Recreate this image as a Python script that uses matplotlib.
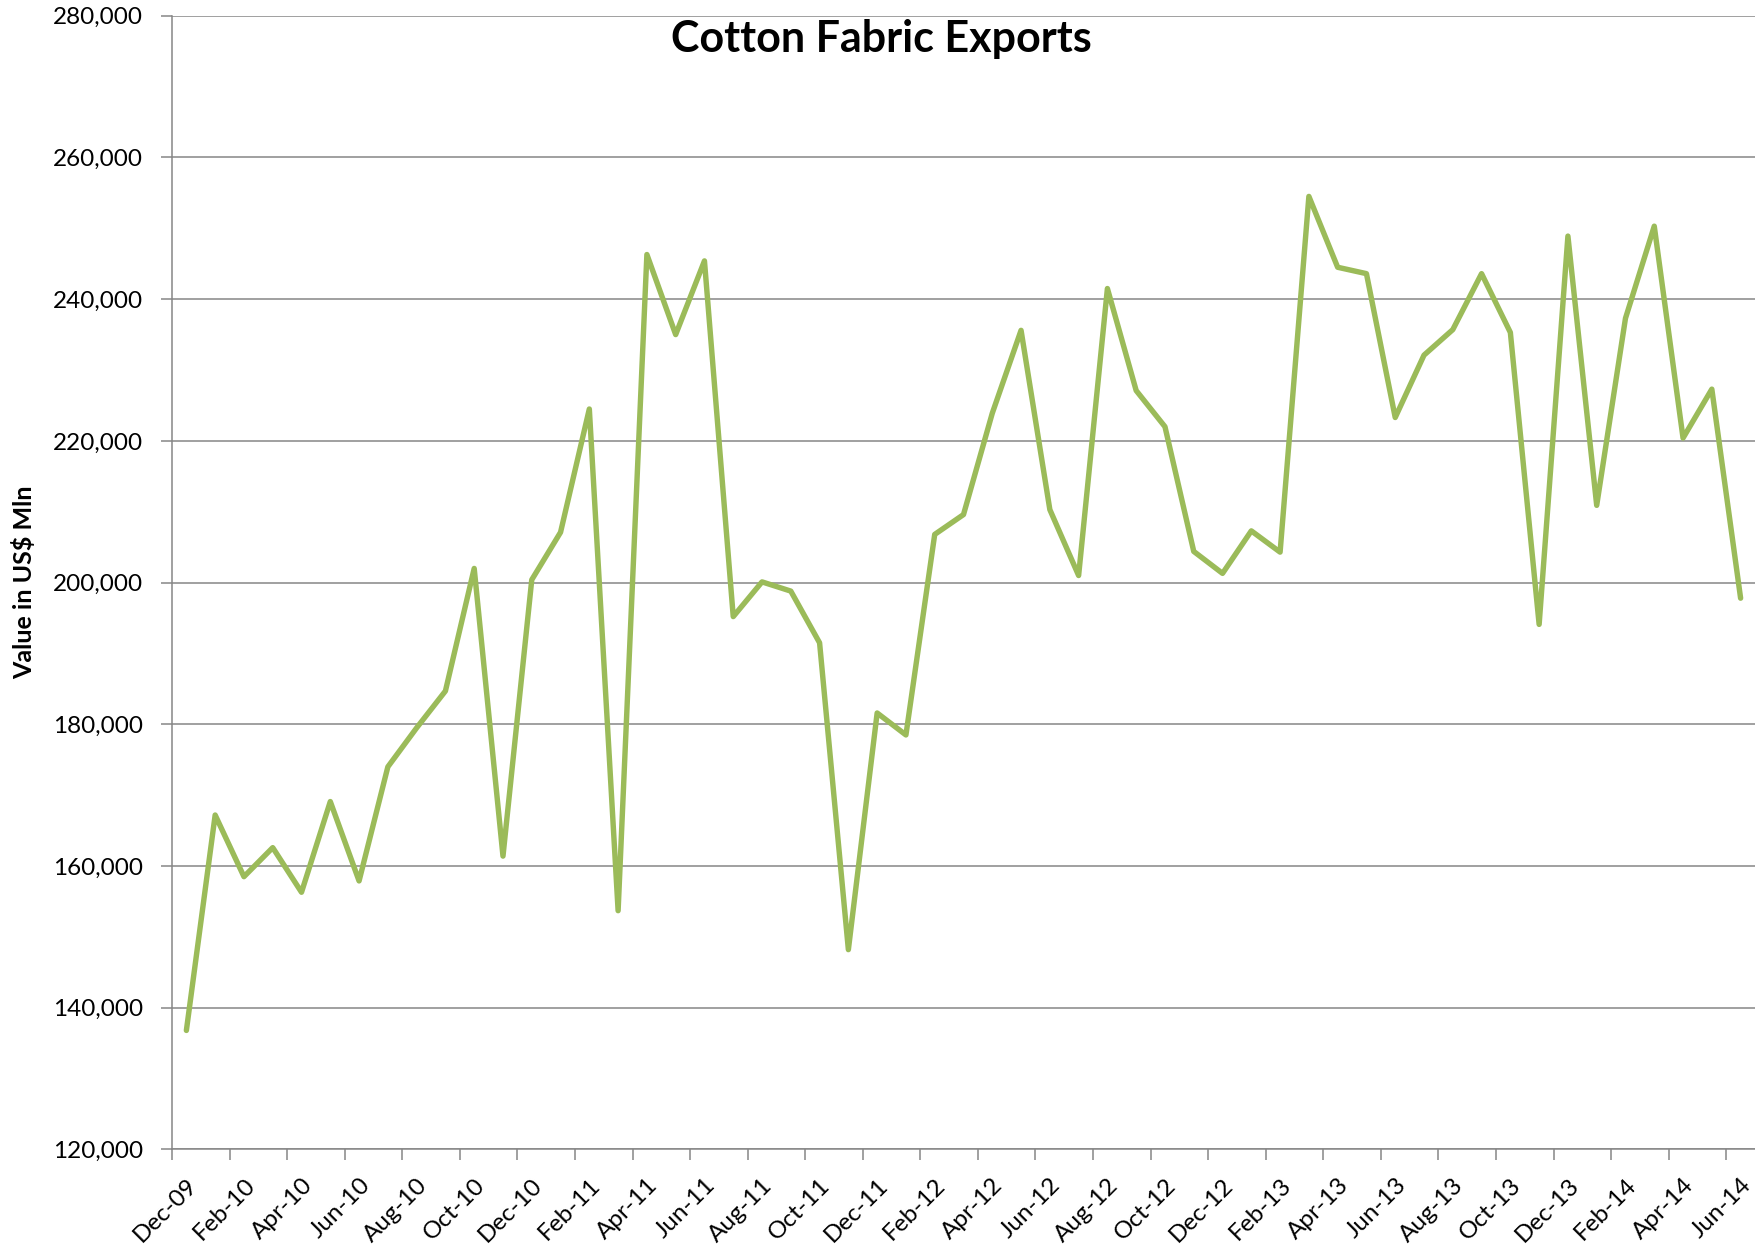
import pandas as pd
import matplotlib
matplotlib.use("Agg")
import matplotlib.pyplot as plt
from matplotlib.ticker import FuncFormatter

# monthly categories, Dec-09 .. Jun-14
months = list(pd.date_range("2009-12-01", periods=55, freq="MS").strftime("%b-%y"))

# export values
exports = [136800, 167200, 158500, 162600, 156300, 169100, 157900, 174000, 179500, 184700,
           202000, 161400, 200400, 207100, 224500, 153700, 246300, 235000, 245400, 195200,
           200100, 198800, 191500, 148200, 181600, 178500, 206800, 209600, 223900, 235600,
           210300, 201000, 241500, 227100, 222000, 204400, 201300, 207300, 204300, 254500,
           244500, 243600, 223300, 232100, 235700, 243600, 235300, 194100, 248900, 210900,
           237300, 250300, 220400, 227300, 197800]

y_ticks = [120000, 140000, 160000, 180000, 200000, 220000, 240000, 260000, 280000]

plt.rcParams['font.family'] = ['Lato', 'DejaVu Sans']
grey = '#868686'

fig = plt.figure(figsize=(17.55, 12.47), dpi=100)
ax = fig.add_axes([0.098, 0.0782, 0.902, 0.9092])

x = list(range(len(months)))
ax.plot(x, exports, color='#9BBB59', linewidth=3.9,
        solid_joinstyle='round', solid_capstyle='round', zorder=3)

# y axis
ax.set_ylim(120000, 280000)
ax.set_yticks(y_ticks)
ax.yaxis.set_major_formatter(FuncFormatter(lambda v, p: '{:,.0f}'.format(v)))
ax.grid(axis='y', color=grey, linewidth=1.1)
ax.tick_params(axis='y', length=8, width=1.1, color=grey, labelsize=17.5, pad=13)

# x axis: tick marks between categories, labels every other month
ax.set_xlim(-0.5, len(months) - 0.5)
ax.set_xticks([i - 0.5 for i in range(0, len(months), 2)])
ax.set_xticklabels([])
ax.set_xticks(x[::2], months[::2], minor=True)
ax.tick_params(axis='x', which='major', length=8, width=1.1, color=grey)
ax.tick_params(axis='x', which='minor', length=0, labelsize=17.5, pad=18)
for lbl in ax.get_xticklabels(minor=True):
    lbl.set_rotation(45)
    lbl.set_ha('right')
    lbl.set_va('top')
    lbl.set_rotation_mode('anchor')

for s in ['top', 'right']:
    ax.spines[s].set_visible(False)
for s in ['left', 'bottom']:
    ax.spines[s].set_color(grey)
    ax.spines[s].set_linewidth(1.1)

fig.text(0.502, 0.958, 'Cotton Fabric Exports', fontsize=31, fontweight='bold',
         ha='center', va='baseline')
fig.text(0.0135, 0.533, 'Value in US$ Mln', fontsize=18, fontweight='bold',
         rotation=90, ha='center', va='center')

fig.savefig('out.png', dpi=100)
